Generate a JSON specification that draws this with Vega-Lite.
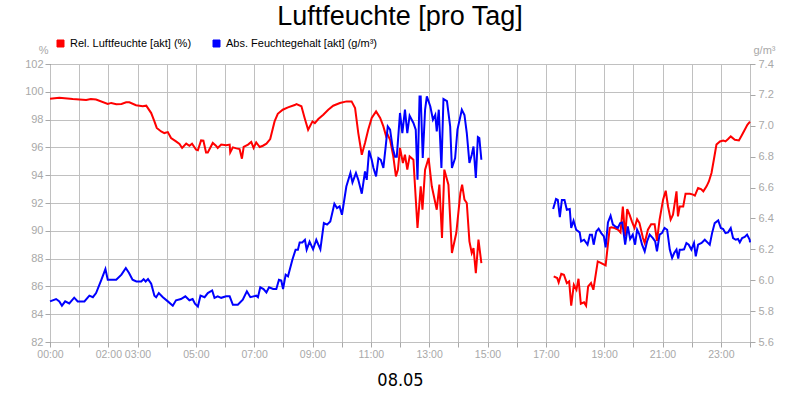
{
"$schema": "https://vega.github.io/schema/vega-lite/v6.json",
"width": 700, "height": 278,
"autosize": {"type": "none"},
"padding": {"left": 50, "top": 64, "right": 50, "bottom": 58},
"background": "white",
"title": {"text": "Luftfeuchte [pro Tag]", "fontSize": 27, "font": "Liberation Sans", "fontWeight": "normal", "color": "#000", "anchor": "middle", "baseline": "alphabetic", "offset": -14},
"config": {"view": {"stroke": "#000", "strokeWidth": 1}},
"datasets": {
"rel": [
{"t":0,"v":99.5,"seg":1},{"t":0.32,"v":99.58,"seg":1},{"t":0.78,"v":99.48,"seg":1},{"t":1.24,"v":99.41,"seg":1},{"t":1.4,"v":99.48,"seg":1},{"t":1.58,"v":99.45,"seg":1},{"t":1.98,"v":99.12,"seg":1},{"t":2.1,"v":99.2,"seg":1},{"t":2.27,"v":99.1,"seg":1},{"t":2.45,"v":99.13,"seg":1},{"t":2.61,"v":99.24,"seg":1},{"t":2.72,"v":99.24,"seg":1},{"t":2.95,"v":99.03,"seg":1},{"t":3.18,"v":98.96,"seg":1},{"t":3.3,"v":99.0,"seg":1},{"t":3.47,"v":98.47,"seg":1},{"t":3.58,"v":97.87,"seg":1},{"t":3.66,"v":97.4,"seg":1},{"t":3.81,"v":97.15,"seg":1},{"t":3.92,"v":97.03,"seg":1},{"t":4.04,"v":97.1,"seg":1},{"t":4.15,"v":96.68,"seg":1},{"t":4.32,"v":96.43,"seg":1},{"t":4.44,"v":96.24,"seg":1},{"t":4.53,"v":95.96,"seg":1},{"t":4.67,"v":96.27,"seg":1},{"t":4.78,"v":96.12,"seg":1},{"t":4.87,"v":96.27,"seg":1},{"t":5.01,"v":95.83,"seg":1},{"t":5.07,"v":95.79,"seg":1},{"t":5.18,"v":96.5,"seg":1},{"t":5.26,"v":96.48,"seg":1},{"t":5.35,"v":95.64,"seg":1},{"t":5.41,"v":95.64,"seg":1},{"t":5.58,"v":96.32,"seg":1},{"t":5.69,"v":96.12,"seg":1},{"t":5.75,"v":95.96,"seg":1},{"t":5.87,"v":96.2,"seg":1},{"t":6.04,"v":96.15,"seg":1},{"t":6.16,"v":96.2,"seg":1},{"t":6.18,"v":95.64,"seg":1},{"t":6.27,"v":96.0,"seg":1},{"t":6.39,"v":95.93,"seg":1},{"t":6.5,"v":95.88,"seg":1},{"t":6.58,"v":95.19,"seg":1},{"t":6.64,"v":96.03,"seg":1},{"t":6.79,"v":96.2,"seg":1},{"t":6.9,"v":96.39,"seg":1},{"t":6.98,"v":95.96,"seg":1},{"t":7.07,"v":96.36,"seg":1},{"t":7.19,"v":96.03,"seg":1},{"t":7.3,"v":96.12,"seg":1},{"t":7.42,"v":96.27,"seg":1},{"t":7.55,"v":96.6,"seg":1},{"t":7.7,"v":97.87,"seg":1},{"t":7.81,"v":98.42,"seg":1},{"t":7.98,"v":98.71,"seg":1},{"t":8.16,"v":98.88,"seg":1},{"t":8.39,"v":99.05,"seg":1},{"t":8.45,"v":99.12,"seg":1},{"t":8.62,"v":98.96,"seg":1},{"t":8.73,"v":98.12,"seg":1},{"t":8.85,"v":97.27,"seg":1},{"t":9.0,"v":97.87,"seg":1},{"t":9.08,"v":97.75,"seg":1},{"t":9.2,"v":98.04,"seg":1},{"t":9.37,"v":98.35,"seg":1},{"t":9.54,"v":98.71,"seg":1},{"t":9.71,"v":99.0,"seg":1},{"t":9.94,"v":99.19,"seg":1},{"t":10.17,"v":99.31,"seg":1},{"t":10.34,"v":99.31,"seg":1},{"t":10.46,"v":98.83,"seg":1},{"t":10.57,"v":97.03,"seg":1},{"t":10.69,"v":95.47,"seg":1},{"t":10.8,"v":96.32,"seg":1},{"t":10.91,"v":97.27,"seg":1},{"t":11.03,"v":98.12,"seg":1},{"t":11.18,"v":98.59,"seg":1},{"t":11.32,"v":98.12,"seg":1},{"t":11.43,"v":97.51,"seg":1},{"t":11.52,"v":96.84,"seg":1},{"t":11.56,"v":97.0,"seg":1},{"t":11.66,"v":96.55,"seg":1},{"t":11.77,"v":95.35,"seg":1},{"t":11.86,"v":93.91,"seg":1},{"t":11.93,"v":94.4,"seg":1},{"t":12.0,"v":95.96,"seg":1},{"t":12.1,"v":94.88,"seg":1},{"t":12.17,"v":95.47,"seg":1},{"t":12.25,"v":94.4,"seg":1},{"t":12.33,"v":95.35,"seg":1},{"t":12.46,"v":95.11,"seg":1},{"t":12.6,"v":90.2,"seg":1},{"t":12.71,"v":93.2,"seg":1},{"t":12.77,"v":91.52,"seg":1},{"t":12.86,"v":94.4,"seg":1},{"t":12.98,"v":95.24,"seg":1},{"t":13.09,"v":93.2,"seg":1},{"t":13.26,"v":91.52,"seg":1},{"t":13.35,"v":93.32,"seg":1},{"t":13.44,"v":89.48,"seg":1},{"t":13.52,"v":94.4,"seg":1},{"t":13.66,"v":93.32,"seg":1},{"t":13.78,"v":88.4,"seg":1},{"t":13.93,"v":89.84,"seg":1},{"t":14.07,"v":92.72,"seg":1},{"t":14.13,"v":93.32,"seg":1},{"t":14.21,"v":92.24,"seg":1},{"t":14.29,"v":92.0,"seg":1},{"t":14.38,"v":89.24,"seg":1},{"t":14.46,"v":88.4,"seg":1},{"t":14.52,"v":88.76,"seg":1},{"t":14.6,"v":86.96,"seg":1},{"t":14.69,"v":89.36,"seg":1},{"t":14.79,"v":87.68,"seg":1},
{"t":17.27,"v":86.72,"seg":2},{"t":17.39,"v":86.6,"seg":2},{"t":17.44,"v":86.29,"seg":2},{"t":17.53,"v":86.91,"seg":2},{"t":17.62,"v":86.84,"seg":2},{"t":17.72,"v":86.24,"seg":2},{"t":17.8,"v":86.36,"seg":2},{"t":17.87,"v":84.61,"seg":2},{"t":17.96,"v":86.12,"seg":2},{"t":18.05,"v":85.76,"seg":2},{"t":18.12,"v":86.55,"seg":2},{"t":18.2,"v":84.75,"seg":2},{"t":18.31,"v":84.85,"seg":2},{"t":18.38,"v":84.61,"seg":2},{"t":18.45,"v":86.0,"seg":2},{"t":18.55,"v":86.24,"seg":2},{"t":18.63,"v":85.76,"seg":2},{"t":18.78,"v":87.8,"seg":2},{"t":18.9,"v":87.68,"seg":2},{"t":19.05,"v":87.51,"seg":2},{"t":19.19,"v":90.2,"seg":2},{"t":19.24,"v":90.25,"seg":2},{"t":19.36,"v":90.2,"seg":2},{"t":19.47,"v":90.08,"seg":2},{"t":19.56,"v":89.88,"seg":2},{"t":19.64,"v":91.75,"seg":2},{"t":19.72,"v":89.6,"seg":2},{"t":19.79,"v":91.56,"seg":2},{"t":19.87,"v":91.16,"seg":2},{"t":19.95,"v":90.68,"seg":2},{"t":20.04,"v":90.2,"seg":2},{"t":20.13,"v":90.84,"seg":2},{"t":20.21,"v":90.56,"seg":2},{"t":20.33,"v":89.48,"seg":2},{"t":20.39,"v":89.12,"seg":2},{"t":20.5,"v":90.08,"seg":2},{"t":20.61,"v":90.48,"seg":2},{"t":20.73,"v":90.48,"seg":2},{"t":20.81,"v":89.28,"seg":2},{"t":20.9,"v":90.8,"seg":2},{"t":21.02,"v":92.24,"seg":2},{"t":21.11,"v":92.88,"seg":2},{"t":21.19,"v":91.75,"seg":2},{"t":21.28,"v":90.8,"seg":2},{"t":21.36,"v":91.16,"seg":2},{"t":21.48,"v":92.84,"seg":2},{"t":21.53,"v":91.04,"seg":2},{"t":21.59,"v":91.75,"seg":2},{"t":21.71,"v":91.75,"seg":2},{"t":21.79,"v":92.67,"seg":2},{"t":21.94,"v":92.67,"seg":2},{"t":22.05,"v":92.6,"seg":2},{"t":22.11,"v":92.53,"seg":2},{"t":22.22,"v":93.08,"seg":2},{"t":22.32,"v":93.0,"seg":2},{"t":22.4,"v":92.84,"seg":2},{"t":22.51,"v":93.2,"seg":2},{"t":22.59,"v":93.55,"seg":2},{"t":22.68,"v":94.16,"seg":2},{"t":22.76,"v":95.11,"seg":2},{"t":22.85,"v":96.2,"seg":2},{"t":22.97,"v":96.43,"seg":2},{"t":23.08,"v":96.5,"seg":2},{"t":23.16,"v":96.43,"seg":2},{"t":23.25,"v":96.6,"seg":2},{"t":23.34,"v":96.79,"seg":2},{"t":23.48,"v":96.55,"seg":2},{"t":23.62,"v":96.5,"seg":2},{"t":23.71,"v":96.84,"seg":2},{"t":23.82,"v":97.27,"seg":2},{"t":23.91,"v":97.63,"seg":2},{"t":24.0,"v":97.85,"seg":2}
],
"abs": [
{"t":0,"v":5.863,"seg":1},{"t":0.21,"v":5.878,"seg":1},{"t":0.32,"v":5.863,"seg":1},{"t":0.41,"v":5.835,"seg":1},{"t":0.52,"v":5.863,"seg":1},{"t":0.66,"v":5.85,"seg":1},{"t":0.83,"v":5.887,"seg":1},{"t":0.95,"v":5.863,"seg":1},{"t":1.18,"v":5.863,"seg":1},{"t":1.35,"v":5.9,"seg":1},{"t":1.47,"v":5.89,"seg":1},{"t":1.58,"v":5.917,"seg":1},{"t":1.76,"v":6.003,"seg":1},{"t":1.9,"v":6.072,"seg":1},{"t":1.98,"v":6.003,"seg":1},{"t":2.1,"v":6.003,"seg":1},{"t":2.27,"v":6.003,"seg":1},{"t":2.45,"v":6.036,"seg":1},{"t":2.6,"v":6.079,"seg":1},{"t":2.71,"v":6.047,"seg":1},{"t":2.83,"v":6.003,"seg":1},{"t":2.96,"v":5.992,"seg":1},{"t":3.13,"v":5.992,"seg":1},{"t":3.21,"v":6.007,"seg":1},{"t":3.28,"v":5.992,"seg":1},{"t":3.36,"v":6.007,"seg":1},{"t":3.47,"v":5.977,"seg":1},{"t":3.58,"v":5.9,"seg":1},{"t":3.64,"v":5.89,"seg":1},{"t":3.73,"v":5.917,"seg":1},{"t":3.87,"v":5.89,"seg":1},{"t":4.04,"v":5.863,"seg":1},{"t":4.21,"v":5.835,"seg":1},{"t":4.32,"v":5.87,"seg":1},{"t":4.49,"v":5.878,"seg":1},{"t":4.64,"v":5.896,"seg":1},{"t":4.78,"v":5.87,"seg":1},{"t":4.89,"v":5.878,"seg":1},{"t":4.97,"v":5.848,"seg":1},{"t":5.07,"v":5.83,"seg":1},{"t":5.16,"v":5.9,"seg":1},{"t":5.3,"v":5.89,"seg":1},{"t":5.41,"v":5.917,"seg":1},{"t":5.56,"v":5.934,"seg":1},{"t":5.64,"v":5.886,"seg":1},{"t":5.75,"v":5.896,"seg":1},{"t":5.87,"v":5.886,"seg":1},{"t":6.04,"v":5.896,"seg":1},{"t":6.16,"v":5.896,"seg":1},{"t":6.27,"v":5.841,"seg":1},{"t":6.44,"v":5.841,"seg":1},{"t":6.61,"v":5.874,"seg":1},{"t":6.75,"v":5.928,"seg":1},{"t":6.87,"v":5.89,"seg":1},{"t":7.07,"v":5.9,"seg":1},{"t":7.13,"v":5.89,"seg":1},{"t":7.21,"v":5.954,"seg":1},{"t":7.32,"v":5.943,"seg":1},{"t":7.42,"v":5.921,"seg":1},{"t":7.51,"v":5.954,"seg":1},{"t":7.65,"v":5.943,"seg":1},{"t":7.76,"v":5.943,"seg":1},{"t":7.85,"v":6.003,"seg":1},{"t":7.93,"v":5.998,"seg":1},{"t":7.99,"v":5.943,"seg":1},{"t":8.08,"v":6.036,"seg":1},{"t":8.16,"v":6.025,"seg":1},{"t":8.31,"v":6.133,"seg":1},{"t":8.42,"v":6.198,"seg":1},{"t":8.5,"v":6.198,"seg":1},{"t":8.56,"v":6.245,"seg":1},{"t":8.65,"v":6.245,"seg":1},{"t":8.74,"v":6.262,"seg":1},{"t":8.8,"v":6.198,"seg":1},{"t":8.9,"v":6.25,"seg":1},{"t":9.02,"v":6.2,"seg":1},{"t":9.13,"v":6.262,"seg":1},{"t":9.27,"v":6.2,"seg":1},{"t":9.39,"v":6.37,"seg":1},{"t":9.5,"v":6.36,"seg":1},{"t":9.61,"v":6.381,"seg":1},{"t":9.75,"v":6.495,"seg":1},{"t":9.84,"v":6.467,"seg":1},{"t":9.93,"v":6.478,"seg":1},{"t":10.01,"v":6.424,"seg":1},{"t":10.16,"v":6.607,"seg":1},{"t":10.3,"v":6.694,"seg":1},{"t":10.37,"v":6.633,"seg":1},{"t":10.49,"v":6.694,"seg":1},{"t":10.57,"v":6.65,"seg":1},{"t":10.69,"v":6.56,"seg":1},{"t":10.8,"v":6.705,"seg":1},{"t":10.86,"v":6.65,"seg":1},{"t":10.94,"v":6.84,"seg":1},{"t":11.03,"v":6.78,"seg":1},{"t":11.09,"v":6.727,"seg":1},{"t":11.18,"v":6.672,"seg":1},{"t":11.26,"v":6.791,"seg":1},{"t":11.34,"v":6.78,"seg":1},{"t":11.43,"v":6.727,"seg":1},{"t":11.51,"v":6.866,"seg":1},{"t":11.58,"v":6.996,"seg":1},{"t":11.66,"v":6.975,"seg":1},{"t":11.75,"v":6.856,"seg":1},{"t":11.83,"v":6.8,"seg":1},{"t":11.89,"v":6.8,"seg":1},{"t":12.0,"v":7.083,"seg":1},{"t":12.08,"v":6.953,"seg":1},{"t":12.17,"v":7.104,"seg":1},{"t":12.25,"v":6.953,"seg":1},{"t":12.33,"v":7.065,"seg":1},{"t":12.46,"v":7.018,"seg":1},{"t":12.54,"v":6.975,"seg":1},{"t":12.6,"v":6.65,"seg":1},{"t":12.67,"v":7.19,"seg":1},{"t":12.71,"v":7.19,"seg":1},{"t":12.78,"v":6.791,"seg":1},{"t":12.86,"v":7.104,"seg":1},{"t":12.92,"v":7.19,"seg":1},{"t":13.04,"v":7.125,"seg":1},{"t":13.13,"v":7.039,"seg":1},{"t":13.21,"v":7.07,"seg":1},{"t":13.26,"v":6.964,"seg":1},{"t":13.33,"v":7.104,"seg":1},{"t":13.42,"v":6.727,"seg":1},{"t":13.49,"v":7.173,"seg":1},{"t":13.61,"v":7.16,"seg":1},{"t":13.72,"v":6.996,"seg":1},{"t":13.78,"v":6.727,"seg":1},{"t":13.89,"v":6.791,"seg":1},{"t":13.97,"v":6.975,"seg":1},{"t":14.12,"v":7.104,"seg":1},{"t":14.21,"v":7.07,"seg":1},{"t":14.29,"v":6.953,"seg":1},{"t":14.38,"v":6.759,"seg":1},{"t":14.46,"v":6.813,"seg":1},{"t":14.52,"v":6.866,"seg":1},{"t":14.6,"v":6.662,"seg":1},{"t":14.67,"v":6.927,"seg":1},{"t":14.72,"v":6.92,"seg":1},{"t":14.79,"v":6.78,"seg":1},
{"t":17.25,"v":6.461,"seg":2},{"t":17.35,"v":6.526,"seg":2},{"t":17.41,"v":6.52,"seg":2},{"t":17.48,"v":6.409,"seg":2},{"t":17.55,"v":6.52,"seg":2},{"t":17.64,"v":6.52,"seg":2},{"t":17.72,"v":6.456,"seg":2},{"t":17.82,"v":6.461,"seg":2},{"t":17.87,"v":6.338,"seg":2},{"t":17.95,"v":6.385,"seg":2},{"t":18.04,"v":6.327,"seg":2},{"t":18.16,"v":6.31,"seg":2},{"t":18.21,"v":6.251,"seg":2},{"t":18.31,"v":6.262,"seg":2},{"t":18.43,"v":6.23,"seg":2},{"t":18.51,"v":6.295,"seg":2},{"t":18.58,"v":6.295,"seg":2},{"t":18.64,"v":6.23,"seg":2},{"t":18.73,"v":6.316,"seg":2},{"t":18.81,"v":6.334,"seg":2},{"t":18.9,"v":6.305,"seg":2},{"t":18.99,"v":6.284,"seg":2},{"t":19.05,"v":6.213,"seg":2},{"t":19.13,"v":6.374,"seg":2},{"t":19.22,"v":6.418,"seg":2},{"t":19.3,"v":6.36,"seg":2},{"t":19.38,"v":6.349,"seg":2},{"t":19.47,"v":6.338,"seg":2},{"t":19.55,"v":6.37,"seg":2},{"t":19.62,"v":6.374,"seg":2},{"t":19.72,"v":6.23,"seg":2},{"t":19.81,"v":6.349,"seg":2},{"t":19.89,"v":6.267,"seg":2},{"t":19.98,"v":6.295,"seg":2},{"t":20.06,"v":6.23,"seg":2},{"t":20.13,"v":6.327,"seg":2},{"t":20.21,"v":6.295,"seg":2},{"t":20.3,"v":6.23,"seg":2},{"t":20.39,"v":6.187,"seg":2},{"t":20.47,"v":6.251,"seg":2},{"t":20.56,"v":6.295,"seg":2},{"t":20.67,"v":6.273,"seg":2},{"t":20.75,"v":6.251,"seg":2},{"t":20.81,"v":6.187,"seg":2},{"t":20.9,"v":6.295,"seg":2},{"t":20.98,"v":6.305,"seg":2},{"t":21.07,"v":6.338,"seg":2},{"t":21.16,"v":6.327,"seg":2},{"t":21.25,"v":6.198,"seg":2},{"t":21.33,"v":6.144,"seg":2},{"t":21.4,"v":6.176,"seg":2},{"t":21.48,"v":6.198,"seg":2},{"t":21.54,"v":6.14,"seg":2},{"t":21.59,"v":6.198,"seg":2},{"t":21.67,"v":6.198,"seg":2},{"t":21.74,"v":6.2,"seg":2},{"t":21.82,"v":6.241,"seg":2},{"t":21.9,"v":6.23,"seg":2},{"t":21.99,"v":6.198,"seg":2},{"t":22.08,"v":6.241,"seg":2},{"t":22.14,"v":6.155,"seg":2},{"t":22.22,"v":6.23,"seg":2},{"t":22.34,"v":6.241,"seg":2},{"t":22.45,"v":6.262,"seg":2},{"t":22.54,"v":6.245,"seg":2},{"t":22.62,"v":6.23,"seg":2},{"t":22.7,"v":6.305,"seg":2},{"t":22.79,"v":6.37,"seg":2},{"t":22.91,"v":6.387,"seg":2},{"t":23.0,"v":6.338,"seg":2},{"t":23.08,"v":6.332,"seg":2},{"t":23.16,"v":6.305,"seg":2},{"t":23.25,"v":6.31,"seg":2},{"t":23.34,"v":6.338,"seg":2},{"t":23.42,"v":6.273,"seg":2},{"t":23.51,"v":6.262,"seg":2},{"t":23.59,"v":6.267,"seg":2},{"t":23.65,"v":6.245,"seg":2},{"t":23.73,"v":6.273,"seg":2},{"t":23.82,"v":6.28,"seg":2},{"t":23.9,"v":6.295,"seg":2},{"t":23.99,"v":6.262,"seg":2},{"t":24.0,"v":6.245,"seg":2}
]
},
"encoding": {
  "x": {"field": "t", "type": "quantitative", "scale": {"domain": [0, 24], "nice": false, "zero": false},
    "axis": {"title": "08.05", "titleFont": "DejaVu Sans Condensed, Liberation Sans", "titleFontSize": 18, "titleFontWeight": "normal", "titleColor": "#000", "titlePadding": 12,
      "values": [0,1,2,3,4,5,6,7,8,9,10,11,12,13,14,15,16,17,18,19,20,21,22,23,24],
      "labelExpr": "indexof([0,2,3,5,7,9,11,13,15,17,19,21,23], datum.value) >= 0 ? (datum.value < 10 ? '0' : '') + datum.value + ':00' : ''",
      "labelFont": "Liberation Sans", "labelFontSize": 10.5, "labelColor": "#a8a8a8", "labelPadding": 2, "labelOverlap": false, "labelFlush": false, "labelBound": false,
      "grid": true, "gridColor": "#c0c0c0", "gridWidth": 1, "domain": false, "tickColor": "#a8a8a8", "tickSize": 5}}
},
"layer": [
  {"data": {"name": "rel"},
   "mark": {"type": "line", "strokeWidth": 2, "color": "#ff0000"},
   "encoding": {
     "y": {"field": "v", "type": "quantitative", "scale": {"domain": [82, 102], "nice": false, "zero": false},
       "axis": {"title": "%", "titleAngle": 0, "titleAlign": "right", "titleBaseline": "alphabetic", "titleX": -2, "titleY": -11, "titleColor": "#a8a8a8", "titleFont": "Liberation Sans", "titleFontWeight": "normal", "titleFontSize": 11,
         "values": [82,84,86,88,90,92,94,96,98,100,102], "grid": true, "gridColor": "#c0c0c0", "gridWidth": 1, "domain": false,
         "tickColor": "#a8a8a8", "tickSize": 5, "labelColor": "#a8a8a8", "labelFont": "Liberation Sans", "labelFontSize": 11, "labelPadding": 2}},
     "detail": {"field": "seg", "type": "nominal"},
     "color": {"datum": "Rel. Luftfeuchte [akt] (%)", "type": "nominal",
       "scale": {"domain": ["Rel. Luftfeuchte [akt] (%)", "Abs. Feuchtegehalt [akt] (g/m³)"], "range": ["#ff0000", "#0000ff"]},
       "legend": {"orient": "none", "legendX": 5, "legendY": -26, "direction": "horizontal", "title": null, "symbolType": "square", "symbolSize": 49,
         "labelFont": "Liberation Sans", "labelFontSize": 11, "labelColor": "#000", "columnPadding": 19, "labelOffset": 4,
         "encode": {"symbols": {"update": {"fill": {"scale": "color", "field": "value"}, "stroke": {"value": "#222"}, "strokeWidth": {"value": 1}, "fillOpacity": {"value": 1}}}}}}
   }},
  {"data": {"name": "abs"},
   "mark": {"type": "line", "strokeWidth": 2, "color": "#0000ff"},
   "encoding": {
     "y": {"field": "v", "type": "quantitative", "scale": {"domain": [5.6, 7.4], "nice": false, "zero": false},
       "axis": {"orient": "right", "title": "g/m³", "titleAngle": 0, "titleAlign": "left", "titleBaseline": "alphabetic", "titleX": 3, "titleY": -11, "titleColor": "#a8a8a8", "titleFont": "Liberation Sans", "titleFontWeight": "normal", "titleFontSize": 11,
         "values": [5.6,5.8,6.0,6.2,6.4,6.6,6.8,7.0,7.2,7.4], "format": ".1f", "grid": false, "domain": false,
         "tickColor": "#a8a8a8", "tickSize": 5, "labelColor": "#a8a8a8", "labelFont": "Liberation Sans", "labelFontSize": 11, "labelPadding": 3}},
     "detail": {"field": "seg", "type": "nominal"},
     "color": {"datum": "Abs. Feuchtegehalt [akt] (g/m³)", "type": "nominal"}
   }}
],
"resolve": {"scale": {"y": "independent"}}
}
